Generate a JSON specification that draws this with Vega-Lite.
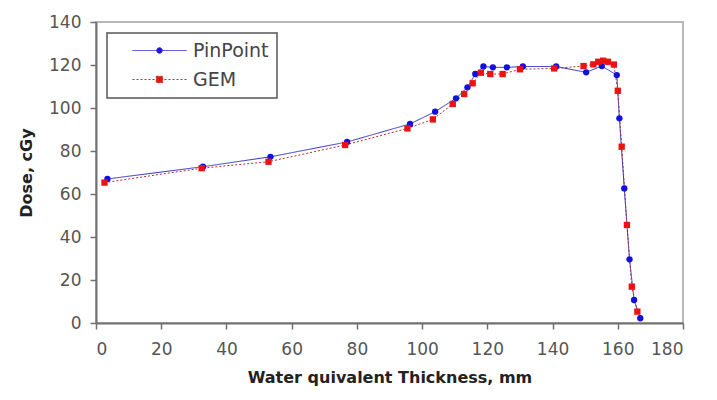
{
  "$schema": "https://vega.github.io/schema/vega-lite/v6.json",
  "width": 587,
  "height": 301,
  "autosize": {"type": "none"},
  "padding": {"left": 96, "top": 22, "right": 34, "bottom": 77},
  "background": "white",
  "config": {
    "view": {"stroke": "#b8b8b8", "strokeWidth": 2},
    "axis": {
      "grid": false,
      "domainColor": "#707070",
      "domainWidth": 2,
      "tickColor": "#707070",
      "tickWidth": 1.5,
      "tickSize": 6,
      "labelFont": "DejaVu Sans",
      "labelFontSize": 17,
      "labelColor": "#555555",
      "titleFont": "DejaVu Sans",
      "titleFontSize": 16,
      "titleFontWeight": "bold",
      "titleColor": "#222222"
    }
  },
  "data": {
    "values": [
      {"series": "PinPoint", "thickness": 3.5, "dose": 67.0},
      {"series": "PinPoint", "thickness": 32.8, "dose": 72.7},
      {"series": "PinPoint", "thickness": 53.5, "dose": 77.3},
      {"series": "PinPoint", "thickness": 77.0, "dose": 84.2},
      {"series": "PinPoint", "thickness": 96.3, "dose": 92.6},
      {"series": "PinPoint", "thickness": 104.0, "dose": 98.3},
      {"series": "PinPoint", "thickness": 110.4, "dose": 104.5},
      {"series": "PinPoint", "thickness": 113.9, "dose": 109.6},
      {"series": "PinPoint", "thickness": 116.3, "dose": 115.8},
      {"series": "PinPoint", "thickness": 118.8, "dose": 119.3},
      {"series": "PinPoint", "thickness": 121.7, "dose": 118.9},
      {"series": "PinPoint", "thickness": 126.0, "dose": 118.9},
      {"series": "PinPoint", "thickness": 130.9, "dose": 119.3},
      {"series": "PinPoint", "thickness": 141.1, "dose": 119.3},
      {"series": "PinPoint", "thickness": 150.3, "dose": 116.6},
      {"series": "PinPoint", "thickness": 155.1, "dose": 119.5},
      {"series": "PinPoint", "thickness": 159.7, "dose": 115.3},
      {"series": "PinPoint", "thickness": 160.5, "dose": 95.2},
      {"series": "PinPoint", "thickness": 162.0, "dose": 62.6},
      {"series": "PinPoint", "thickness": 163.6, "dose": 29.6},
      {"series": "PinPoint", "thickness": 165.0, "dose": 10.7},
      {"series": "PinPoint", "thickness": 166.9, "dose": 2.2},
      {"series": "GEM", "thickness": 2.6, "dose": 65.3},
      {"series": "GEM", "thickness": 32.4, "dose": 72.0},
      {"series": "GEM", "thickness": 52.9, "dose": 75.0},
      {"series": "GEM", "thickness": 76.4, "dose": 82.8},
      {"series": "GEM", "thickness": 95.5, "dose": 90.5},
      {"series": "GEM", "thickness": 103.3, "dose": 94.7},
      {"series": "GEM", "thickness": 109.4, "dose": 101.9},
      {"series": "GEM", "thickness": 112.9, "dose": 106.5},
      {"series": "GEM", "thickness": 115.5, "dose": 111.5},
      {"series": "GEM", "thickness": 118.0, "dose": 116.4},
      {"series": "GEM", "thickness": 120.9, "dose": 115.8},
      {"series": "GEM", "thickness": 124.7, "dose": 115.8},
      {"series": "GEM", "thickness": 130.0, "dose": 118.0},
      {"series": "GEM", "thickness": 140.5, "dose": 118.4},
      {"series": "GEM", "thickness": 149.5, "dose": 119.5},
      {"series": "GEM", "thickness": 152.5, "dose": 120.3},
      {"series": "GEM", "thickness": 154.0, "dose": 121.5},
      {"series": "GEM", "thickness": 155.5, "dose": 122.0},
      {"series": "GEM", "thickness": 157.0, "dose": 121.5},
      {"series": "GEM", "thickness": 158.8, "dose": 120.2},
      {"series": "GEM", "thickness": 160.0, "dose": 108.0},
      {"series": "GEM", "thickness": 161.2, "dose": 82.0},
      {"series": "GEM", "thickness": 162.8, "dose": 45.6},
      {"series": "GEM", "thickness": 164.3, "dose": 16.9},
      {"series": "GEM", "thickness": 166.0, "dose": 5.3}
    ]
  },
  "encoding": {
    "x": {
      "field": "thickness",
      "type": "quantitative",
      "scale": {"domain": [0, 180], "nice": false},
      "axis": {"values": [0, 20, 40, 60, 80, 100, 120, 140, 160, 180], "title": "Water quivalent Thickness, mm", "labelPadding": 12, "titlePadding": 12}
    },
    "y": {
      "field": "dose",
      "type": "quantitative",
      "scale": {"domain": [0, 140], "nice": false},
      "axis": {"values": [0, 20, 40, 60, 80, 100, 120, 140], "title": "Dose, cGy", "labelPadding": 9, "titlePadding": 14}
    }
  },
  "layer": [
    {
      "mark": {"type": "line", "strokeWidth": 1},
      "encoding": {
        "color": {
          "field": "series",
          "type": "nominal",
          "scale": {"domain": ["PinPoint", "GEM"], "range": ["#3030c8", "#b03030"]},
          "legend": null
        },
        "strokeDash": {
          "field": "series",
          "type": "nominal",
          "scale": {"domain": ["PinPoint", "GEM"], "range": [[1, 0], [2, 2]]},
          "legend": null
        }
      }
    },
    {
      "mark": {"type": "point", "filled": true, "opacity": 1, "size": 40},
      "encoding": {
        "color": {
          "field": "series",
          "type": "nominal",
          "scale": {"domain": ["PinPoint", "GEM"], "range": ["#1010e0", "#ee1111"]},
          "legend": {
            "title": null,
            "orient": "top-left",
            "offset": 11,
            "padding": 8,
            "strokeColor": "#555555",
            "fillColor": "white",
            "symbolSize": 324,
            "symbolOffset": 35,
            "labelOffset": 24,
            "labelFont": "DejaVu Sans",
            "labelFontSize": 19,
            "labelColor": "#444444",
            "rowPadding": 9,
            "symbolType": {"expr": "datum.value === 'GEM' ? 'M-3,0H3M-0.36,-0.36H0.36V0.36H-0.36Z' : 'M-3,0H3M-0.31,0A0.31,0.31 0 1,0 0.31,0A0.31,0.31 0 1,0 -0.31,0Z'"},
            "symbolStrokeColor": {"expr": "datum.value === 'GEM' ? '#b03030' : '#3030c8'"},
            "symbolDash": {"expr": "datum.value === 'GEM' ? [2, 2] : [1, 0]"},
            "symbolStrokeWidth": 1,
            "symbolOpacity": 1,
            "encode": {
              "legend": {"update": {"strokeWidth": {"value": 1.5}}}
            }
          }
        },
        "shape": {
          "field": "series",
          "type": "nominal",
          "scale": {"domain": ["PinPoint", "GEM"], "range": ["circle", "square"]},
          "legend": null
        }
      }
    }
  ],
  "resolve": {"scale": {"color": "independent"}, "legend": {"color": "independent"}}
}
